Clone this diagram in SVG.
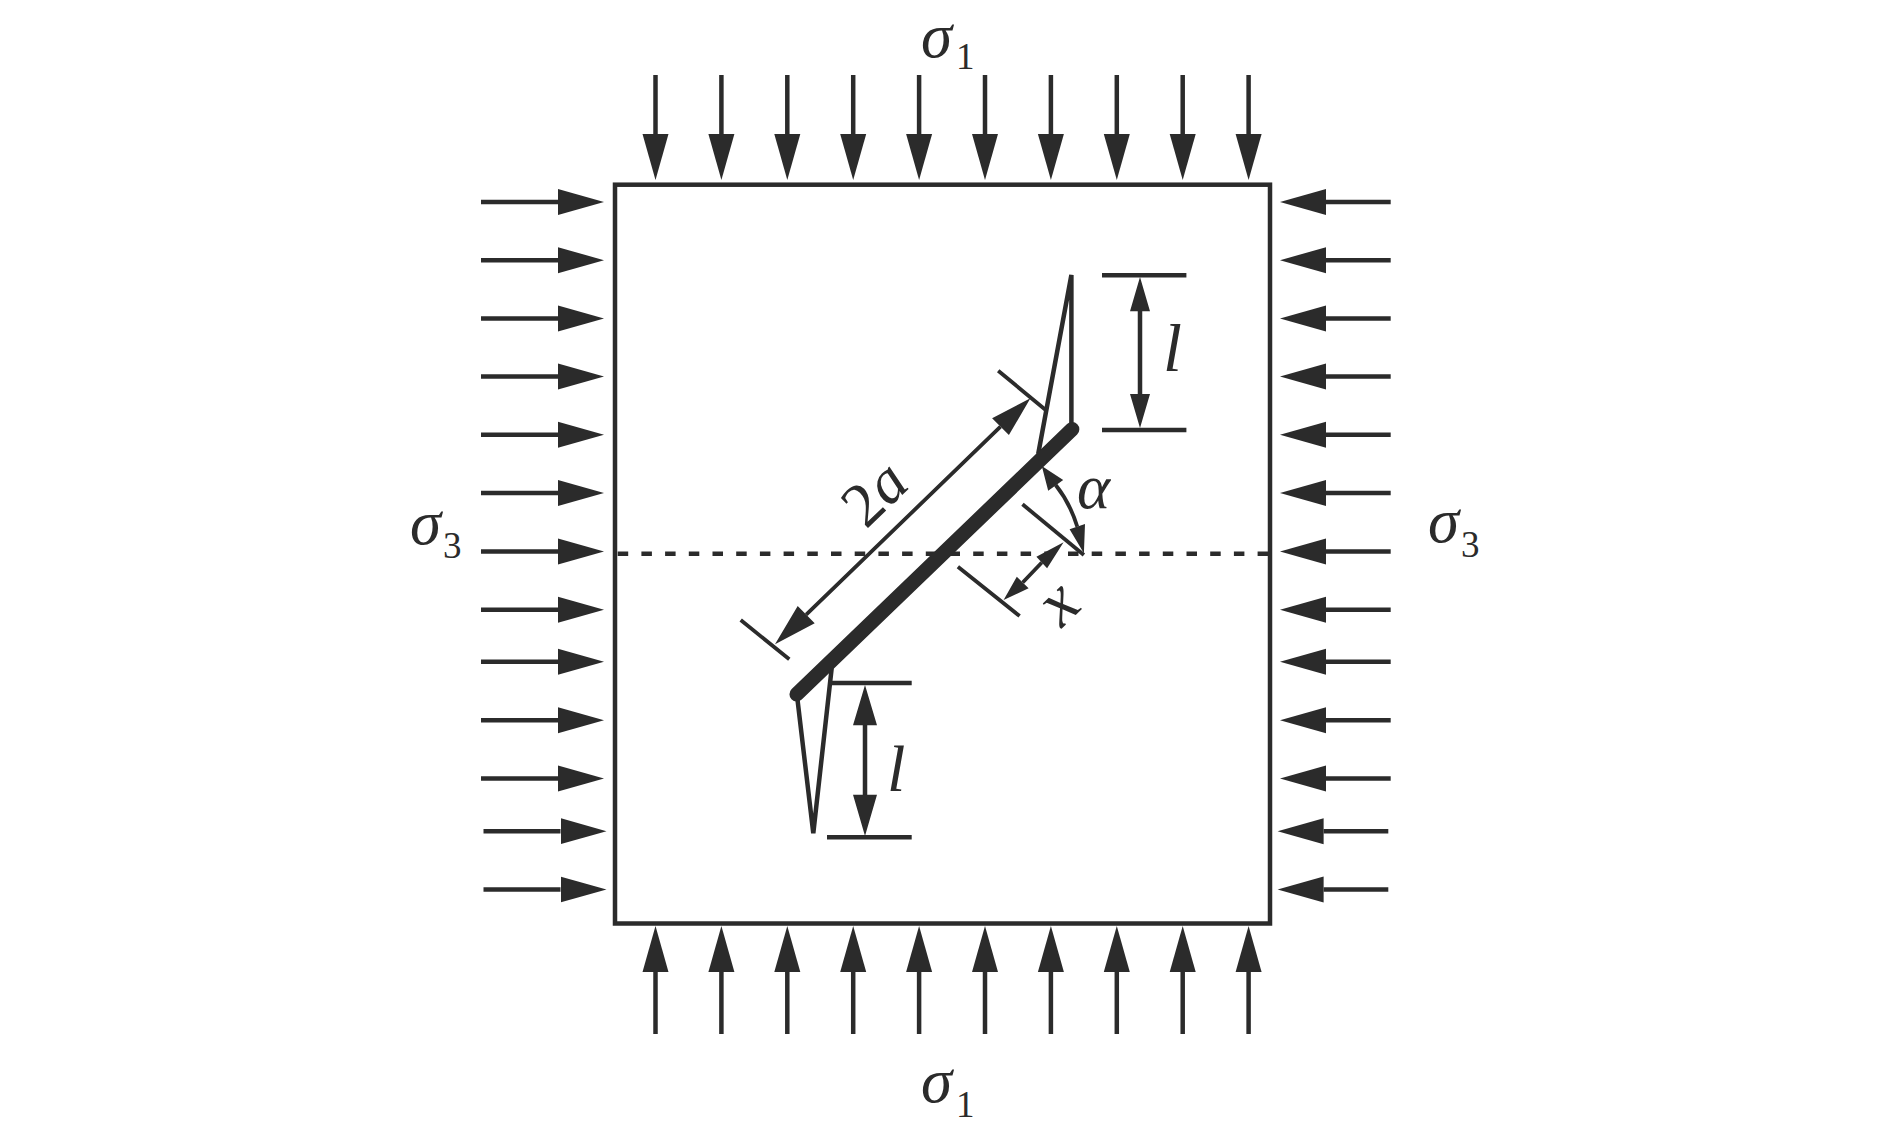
<svg xmlns="http://www.w3.org/2000/svg" width="1890" height="1137" viewBox="0 0 1890 1137">
<style>
.l{stroke:#2b2b2b;stroke-width:4.5;fill:none}
.t{stroke:#2b2b2b;stroke-width:3.8;fill:none}
.f{fill:#2b2b2b;stroke:none}
text{font-family:"Liberation Serif","Times New Roman",serif;fill:#2b2b2b}
.i{font-style:italic}
.m{font-size:63px}
.s{font-size:37px}
</style>
<defs>
<marker id="head" markerUnits="userSpaceOnUse" markerWidth="48" markerHeight="28" refX="0" refY="14" orient="auto"><path d="M0 1L46 14L0 27Z" fill="#2b2b2b"/></marker>
</defs>
<rect width="1890" height="1137" fill="#fff"/>
<g id="specimen"><rect class="l" x="615" y="184.7" width="655" height="738.8"/></g>
<g id="plane"><line x1="617.7" y1="553.8" x2="1268" y2="553.8" stroke="#2b2b2b" stroke-width="4.6" stroke-dasharray="10.5 13.2"/></g>
<g id="connectors">
<g id="load-top" class="l">
<path d="M655.5 75V134" marker-end="url(#head)"/><path d="M721.4 75V134" marker-end="url(#head)"/><path d="M787.3 75V134" marker-end="url(#head)"/><path d="M853.2 75V134" marker-end="url(#head)"/><path d="M919.1 75V134" marker-end="url(#head)"/><path d="M985 75V134" marker-end="url(#head)"/><path d="M1050.9 75V134" marker-end="url(#head)"/><path d="M1116.8 75V134" marker-end="url(#head)"/><path d="M1182.7 75V134" marker-end="url(#head)"/><path d="M1248.6 75V134" marker-end="url(#head)"/>
</g>
<g id="load-bottom" class="l">
<path d="M655.5 1034V972" marker-end="url(#head)"/><path d="M721.4 1034V972" marker-end="url(#head)"/><path d="M787.3 1034V972" marker-end="url(#head)"/><path d="M853.2 1034V972" marker-end="url(#head)"/><path d="M919.1 1034V972" marker-end="url(#head)"/><path d="M985 1034V972" marker-end="url(#head)"/><path d="M1050.9 1034V972" marker-end="url(#head)"/><path d="M1116.8 1034V972" marker-end="url(#head)"/><path d="M1182.7 1034V972" marker-end="url(#head)"/><path d="M1248.6 1034V972" marker-end="url(#head)"/>
</g>
<g id="load-left" class="l">
<path d="M481 202H558" marker-end="url(#head)"/><path d="M481 260.2H558" marker-end="url(#head)"/><path d="M481 318.4H558" marker-end="url(#head)"/><path d="M481 376.6H558" marker-end="url(#head)"/><path d="M481 434.8H558" marker-end="url(#head)"/><path d="M481 493H558" marker-end="url(#head)"/><path d="M481 551.4H558" marker-end="url(#head)"/><path d="M481 609.8H558" marker-end="url(#head)"/><path d="M481 661.8H558" marker-end="url(#head)"/><path d="M481 720.2H558" marker-end="url(#head)"/><path d="M481 778.6H558" marker-end="url(#head)"/><path d="M483.5 831.2H560.5" marker-end="url(#head)"/><path d="M483.5 889.5H560.5" marker-end="url(#head)"/>
</g>
<g id="load-right" class="l">
<path d="M1390.7 202H1326" marker-end="url(#head)"/><path d="M1390.7 260.2H1326" marker-end="url(#head)"/><path d="M1390.7 318.4H1326" marker-end="url(#head)"/><path d="M1390.7 376.6H1326" marker-end="url(#head)"/><path d="M1390.7 434.8H1326" marker-end="url(#head)"/><path d="M1390.7 493H1326" marker-end="url(#head)"/><path d="M1390.7 551.4H1326" marker-end="url(#head)"/><path d="M1390.7 609.8H1326" marker-end="url(#head)"/><path d="M1390.7 661.8H1326" marker-end="url(#head)"/><path d="M1390.7 720.2H1326" marker-end="url(#head)"/><path d="M1390.7 778.6H1326" marker-end="url(#head)"/><path d="M1388.3 831.2H1323.6" marker-end="url(#head)"/><path d="M1388.3 889.5H1323.6" marker-end="url(#head)"/>
</g>
</g>
<g id="crack">
<path class="l" d="M1071.4 430V275L1038.2 454"/>
<path class="l" d="M797.3 698L813.3 833.3L831.7 668"/>
<line x1="796.7" y1="694.3" x2="1072.1" y2="429.3" stroke="#2b2b2b" stroke-width="14.5" stroke-linecap="round"/>
</g>
<g id="dim-2a">
<path class="t" d="M998.2 370.7L1045.7 410M740.7 620L789.3 659.3M1000.5 426.7L806.2 614.7"/>
<path class="f" d="M1030.4 398.3L992.1 418.3L1008.9 435ZM775 644.3L797.7 606L814.7 623.3Z"/>
<text transform="translate(866 530) rotate(-44)" style="font-size:63px">2<tspan class="i">a</tspan></text>
</g>
<g id="dim-l-top">
<path class="l" d="M1102 275.3H1186.4M1102 430H1186.4M1140 311V394"/>
<path class="f" d="M1140 277L1150 311.3H1130ZM1140 428L1150 394H1130Z"/>
<text class="i" x="1163" y="371" style="font-size:68px">l</text>
</g>
<g id="dim-l-bottom">
<path class="l" d="M828 683H911.7M827 837.3H911.7M865 725V795"/>
<path class="f" d="M865 685L877 725.3H853ZM865 836L877 794.7H853Z"/>
<text class="i" x="887" y="791" style="font-size:66px">l</text>
</g>
<g id="dim-alpha">
<path class="t" d="M1022.5 504.3L1083.9 555"/>
<path class="t" d="M1055.7 485Q1070 503 1077.3 526.7"/>
<path class="f" d="M1041.8 466L1063.2 480L1048.2 490.7ZM1083.9 553.3L1085 524L1069.6 529.3Z"/>
<text class="i m" x="1077" y="508">α</text>
</g>
<g id="dim-x">
<path class="t" d="M957.9 566.7L1019.6 616M1041.8 562.5L1022.7 582.5"/>
<path class="f" d="M1063.6 542.3L1036.4 556.7L1047.1 568.3ZM1003.6 600L1028.6 588.3L1016.8 576.7Z"/>
<text class="i" text-anchor="middle" transform="translate(1063 608) rotate(-44)" y="14" style="font-size:68px">x</text>
</g>
<g id="label-s1-top"><text class="i m" x="921" y="56.5">σ</text><text class="s" x="956" y="69">1</text></g>
<g id="label-s1-bottom"><text class="i m" x="921" y="1102">σ</text><text class="s" x="956" y="1117">1</text></g>
<g id="label-s3-left"><text class="i m" x="410" y="544">σ</text><text class="s" x="443" y="558">3</text></g>
<g id="label-s3-right"><text class="i m" x="1428" y="542">σ</text><text class="s" x="1461" y="557">3</text></g>
</svg>
